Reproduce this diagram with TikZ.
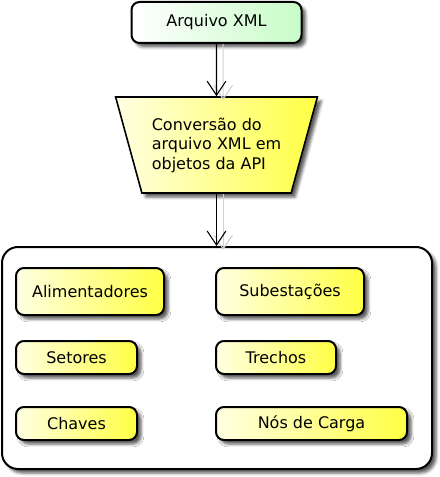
\documentclass[tikz,border=0pt]{standalone}
\usepackage{fontspec}
\setmainfont{DejaVu Sans}
\usetikzlibrary{shapes.geometric,arrows.meta,shadows.blur}
\definecolor{ylw}{HTML}{FFFF44}
\definecolor{grn}{HTML}{C8FCC8}
\begin{document}
\begin{tikzpicture}[x=0.75pt,y=-0.75pt,
  font=\fontsize{12pt}{14.6pt}\selectfont,
  shad/.style={blur shadow={shadow xshift=3pt,shadow yshift=-3pt,shadow blur steps=4,shadow opacity=65}},
  item/.style={draw=black,line width=1.5pt,rounded corners=6pt,left color=white!85!ylw,right color=ylw,shad,anchor=north west,inner sep=0pt},
  conn/.style={line width=0.8pt,-{Straight Barb[length=10.5pt,width=14pt,line width=0.8pt]}},
  connshadow/.style={line width=0.8pt,draw=black!18,-{Straight Barb[length=10.5pt,width=14pt,line width=0.8pt]}}]
\useasboundingbox (0,0) rectangle (439,477);
% top box
\node[draw=black,line width=1.5pt,rounded corners=6pt,left color=white,right color=grn,shad,
  minimum width=170*0.75pt,minimum height=41*0.75pt,inner sep=0pt] (xml) at (216.5,22.5) {Arquivo XML};
% trapezium
\node[trapezium,shape border rotate=180,trapezium stretches=true,draw=black,line width=1.2pt,
  minimum width=202*0.75pt,minimum height=96*0.75pt,trapezium left angle=67.4,trapezium right angle=67.4,
  left color=white!85!ylw,right color=ylw,shad,align=left,inner sep=0pt] (conv) at (216.5,145)
  {Conversão do\\arquivo XML em\\objetos da API};
% container
\node[draw=black,line width=1.5pt,rounded corners=12pt,fill=white,shad,
  minimum width=430*0.75pt,minimum height=222*0.75pt,inner sep=0pt] (cont) at (217,358) {};
% items
\node[item,minimum width=148*0.75pt,minimum height=47*0.75pt] (ali) at (15,267) {Alimentadores};
\node[item,minimum width=148*0.75pt,minimum height=47*0.75pt] (sub) at (215,267) {Subestações};
\node[item,minimum width=121*0.75pt,minimum height=33*0.75pt] (set) at (15,340) {Setores};
\node[item,minimum width=120*0.75pt,minimum height=33*0.75pt] (tre) at (215,340) {Trechos};
\node[item,minimum width=121*0.75pt,minimum height=33*0.75pt] (cha) at (15,406) {Chaves};
\node[item,minimum width=191*0.75pt,minimum height=33*0.75pt] (nos) at (215,406) {Nós de Carga};
% connectors
\draw[connshadow] ([xshift=5pt]xml.south) -- ([xshift=5pt,yshift=-3pt]conv.north);
\draw[conn] (xml.south) -- (conv.north);
\draw[connshadow] ([xshift=5pt]conv.south) -- ([xshift=5pt,yshift=-3pt]conv.south |- cont.north);
\draw[conn] (conv.south) -- (conv.south |- cont.north);
\end{tikzpicture}
\end{document}
